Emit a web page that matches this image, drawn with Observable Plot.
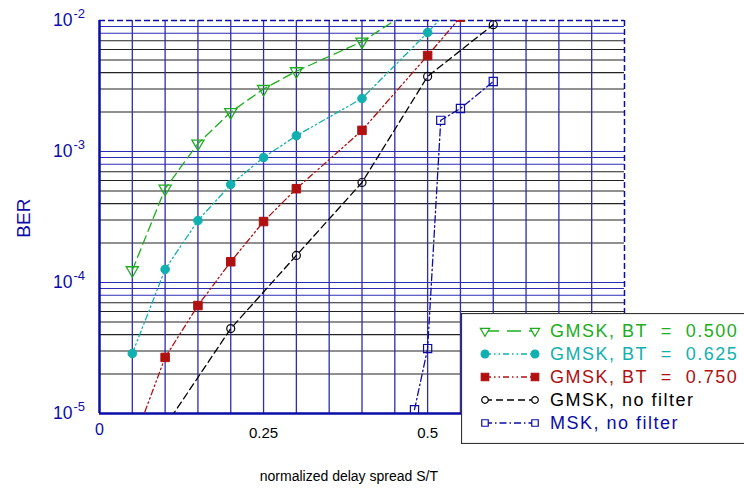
<!DOCTYPE html>
<html>
<head>
<meta charset="utf-8">
<script src="https://cdn.jsdelivr.net/npm/d3@7"></script>
<script src="https://cdn.jsdelivr.net/npm/@observablehq/plot@0.6"></script>
<style>
  body { margin: 0; background: #fff; }
  #wrap { position: relative; width: 744px; height: 488px; overflow: hidden; font-family: "Liberation Sans", Arial, sans-serif; }
  #legend { position: absolute; left: 461px; top: 313px; }
</style>
</head>
<body>
<div id="wrap">
  <div id="chart"></div>
  <div id="legend"></div>
</div>
<script>
// BER versus normalized delay spread S/T for several modulation filters
const gmsk500X = [0.05, 0.1, 0.15, 0.2, 0.25, 0.3, 0.4, 0.5];
const gmsk500Y = [1.24e-4, 5.2e-4, 1.15e-3, 2.0e-3, 3.0e-3, 4.1e-3, 6.9e-3, 1.45e-2];

const gmsk625X = [0.05, 0.1, 0.15, 0.2, 0.25, 0.3, 0.4, 0.5, 0.55];
const gmsk625Y = [2.87e-5, 1.26e-4, 2.97e-4, 5.6e-4, 9.0e-4, 1.32e-3, 2.54e-3, 8.1e-3, 1.5e-2];

const gmsk750X = [0.05, 0.1, 0.15, 0.2, 0.25, 0.3, 0.4, 0.5, 0.55];
const gmsk750Y = [5.7e-6, 2.68e-5, 6.67e-5, 1.44e-4, 2.92e-4, 5.2e-4, 1.45e-3, 5.4e-3, 1.06e-2];

const gmskNoFilterX = [0.1, 0.2, 0.3, 0.4, 0.5, 0.6];
const gmskNoFilterY = [8.0e-6, 4.45e-5, 1.61e-4, 5.8e-4, 3.74e-3, 9.3e-3];

const mskNoFilterX = [0.48, 0.5, 0.52, 0.55, 0.6];
const mskNoFilterY = [1.07e-5, 3.13e-5, 1.73e-3, 2.13e-3, 3.42e-3];

const seriesNames = ["GMSK, BT  =  0.500", "GMSK, BT  =  0.625", "GMSK, BT  =  0.750", "GMSK, no filter", "MSK, no filter"];

const xTickValues = [0, 0.25, 0.5];
const xTickLabels = ["0", "0.25", "0.5"];
const yDecades = [1e-5, 1e-4, 1e-3, 1e-2];
const yDecadeExponents = ["-5", "-4", "-3", "-2"];

const blue = "#0c0ca8";
const gridBlue = "#2c2cb4";

const styles = [
  {color: "#1cae1c", dash: "9,5", symbol: "triangle", rotate: 180, fill: "none", r: 4.5, sw: 1.3},
  {color: "#10b0b0", dash: "6,3,1.5,3,1.5,3", symbol: "circle", rotate: 0, fill: "currentColor", r: 4.3, sw: 1},
  {color: "#b01010", dash: "6,3,1.5,3,1.5,3", symbol: "square", rotate: 0, fill: "currentColor", r: 4.8, sw: 1},
  {color: "#000000", dash: "7,4", symbol: "circle", rotate: 0, fill: "none", r: 4, sw: 1.2},
  {color: blue, dash: "7,3,1.5,3", symbol: "square", rotate: 0, fill: "none", r: 4.6, sw: 1.2}
];

const seriesX = [gmsk500X, gmsk625X, gmsk750X, gmskNoFilterX, mskNoFilterX];
const seriesY = [gmsk500Y, gmsk625Y, gmsk750Y, gmskNoFilterY, mskNoFilterY];

const seriesData = seriesX.map((xs, i) => xs.map((x, j) => ({x, y: seriesY[i][j], s: seriesNames[i]})));

// log grid: 1..9 per decade
const minorY = [];
for (let k = -5; k <= -3; k++) for (let m = 1; m <= 9; m++) minorY.push({v: m * Math.pow(10, k), m});
const gridX = d3.range(0, 17).map(i => i * 0.05);

const curveMarks = seriesData.flatMap((data, i) => {
  const st = styles[i];
  return [
    Plot.line(data, {x: "x", y: "y", stroke: st.color, strokeWidth: 1.3, strokeDasharray: st.dash, clip: true}),
    Plot.dot(data, {x: "x", y: "y", symbol: st.symbol, rotate: st.rotate, r: st.r,
      stroke: st.color, strokeWidth: st.sw, fill: st.fill === "none" ? "white" : st.color, fillOpacity: st.fill === "none" ? 0 : 1, clip: true})
  ];
});

const chart = Plot.plot({
  width: 744,
  height: 488,
  marginLeft: 99,
  marginRight: 120,
  marginTop: 20,
  marginBottom: 75,
  style: {fontFamily: "'Liberation Sans', Arial, sans-serif", background: "white"},
  x: {domain: [0, 0.8], axis: null},
  y: {type: "log", domain: [1e-5, 1e-2], axis: null},
  marks: [
    Plot.ruleY(minorY.filter(d => d.m > 1 && d.m < 8), {y: "v", stroke: "#222", strokeWidth: 1.1}),
    Plot.ruleY(minorY.filter(d => d.m === 1 || d.m >= 8), {y: "v", stroke: gridBlue, strokeWidth: 1.1}),
    Plot.ruleX(gridX.slice(1, -1), {x: d => d, stroke: gridBlue, strokeWidth: 1.3}),
    // frame
    Plot.ruleY([1e-2], {stroke: blue, strokeWidth: 1.5, strokeDasharray: "6,3"}),
    Plot.ruleX([0.8], {stroke: blue, strokeWidth: 1.5, strokeDasharray: "6,3"}),
    Plot.ruleX([0], {stroke: blue, strokeWidth: 2.5}),
    Plot.ruleY([1e-5], {stroke: blue, strokeWidth: 2.5}),
    ...curveMarks,
    // y tick labels: 10 with superscript exponent
    Plot.text(yDecades, {y: d => d, frameAnchor: "left", dx: -27, textAnchor: "end", text: () => "10",
      fill: blue, fontSize: 17.5}),
    Plot.text(yDecades, {y: d => d, frameAnchor: "left", dx: -26, dy: -7, textAnchor: "start",
      text: (d, i) => yDecadeExponents[i], fill: blue, fontSize: 13}),
    // x tick labels
    Plot.text(xTickValues.slice(0, 1), {x: d => d, frameAnchor: "bottom", dy: 21, text: (d, i) => xTickLabels[i],
      fill: blue, fontSize: 16}),
    Plot.text(xTickValues.slice(1), {x: d => d, frameAnchor: "bottom", dy: 24, text: (d, i) => xTickLabels[i + 1],
      fill: "#000", fontSize: 15}),
    // axis titles
    Plot.text(["normalized delay spread S/T"], {frameAnchor: "bottom", x: 0.38, dy: 67, text: d => d, fill: "#000", fontSize: 14}),
    Plot.text(["BER"], {frameAnchor: "left", dx: -76, y: 2.2e-4, rotate: -90, text: d => d, fill: blue, fontSize: 19})
  ]
});
document.getElementById("chart").appendChild(chart);

// legend box overlapping the lower right corner of the plot
const lw = 300, lh = 131;
const leg = d3.select("#legend").append("svg").attr("width", lw).attr("height", lh)
  .style("font-family", "'Liberation Sans', Arial, sans-serif");
leg.append("rect").attr("x", 0.5).attr("y", 0.5).attr("width", lw).attr("height", lh - 1)
  .attr("fill", "white").attr("stroke", "#333").attr("stroke-width", 1.2);

seriesNames.forEach((name, i) => {
  const st = styles[i];
  const cy = 18 + i * 23;
  const g = leg.append("g");
  g.append("line").attr("x1", 24).attr("x2", 74).attr("y1", cy).attr("y2", cy)
    .attr("stroke", st.color).attr("stroke-width", 1.4).attr("stroke-dasharray", i === 0 ? "14,8" : st.dash);
  [24, 74].forEach(x => {
    const symGen = d3.symbol(st.symbol === "triangle" ? d3.symbolTriangle : st.symbol === "circle" ? d3.symbolCircle : d3.symbolSquare,
      st.symbol === "triangle" ? 38 : st.symbol === "circle" ? (st.fill === "none" ? 34 : 48) : (st.fill === "none" ? 42 : 56));
    g.append("path").attr("d", symGen())
      .attr("transform", `translate(${x},${cy}) rotate(${st.rotate})`)
      .attr("fill", st.fill === "none" ? "white" : st.color)
      .attr("stroke", st.color).attr("stroke-width", 1.2);
  });
  g.append("text").attr("x", 89).attr("y", cy).attr("dy", "0.36em")
    .style("white-space", "pre").style("letter-spacing", "1.5px")
    .attr("fill", st.color).attr("font-size", 18).text(name);
});
</script>
</body>
</html>
